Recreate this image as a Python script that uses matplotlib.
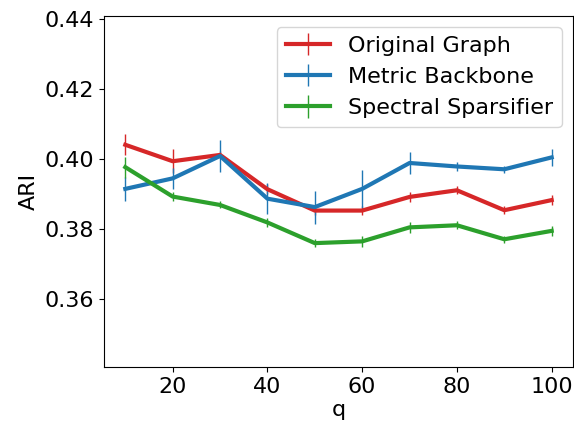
import numpy as np
import matplotlib
matplotlib.use("Agg")
import matplotlib.pyplot as plt

q = [10, 20, 30, 40, 50, 60, 70, 80, 90, 100]

orig_mean = [0.4041, 0.3994, 0.4012, 0.3914, 0.3853, 0.3853, 0.3892, 0.3911, 0.3854, 0.3883]
orig_err  = [0.0030, 0.0035, 0.0010, 0.0015, 0.0012, 0.0012, 0.0015, 0.0012, 0.0012, 0.0015]

metric_mean = [0.3915, 0.3945, 0.4009, 0.3887, 0.3863, 0.3915, 0.3989, 0.3979, 0.3971, 0.4005]
metric_err  = [0.0035, 0.0030, 0.0047, 0.0044, 0.0047, 0.0055, 0.0032, 0.0012, 0.0010, 0.0024]

spec_mean = [0.3977, 0.3893, 0.3869, 0.3819, 0.3760, 0.3765, 0.3805, 0.3811, 0.3771, 0.3795]
spec_err  = [0.0030, 0.0012, 0.0010, 0.0012, 0.0012, 0.0015, 0.0015, 0.0012, 0.0010, 0.0015]

fig = plt.figure(figsize=(5.74, 4.24), dpi=100)
ax = fig.add_axes([104 / 574, 57 / 424, 469 / 574, 351 / 424])

ax.errorbar(q, orig_mean, yerr=orig_err, color="tab:red", lw=3, elinewidth=1,
            label="Original Graph")
ax.errorbar(q, metric_mean, yerr=metric_err, color="tab:blue", lw=3, elinewidth=1,
            label="Metric Backbone")
ax.errorbar(q, spec_mean, yerr=spec_err, color="tab:green", lw=3, elinewidth=1,
            label="Spectral Sparsifier")

ax.set_xlim(5.5, 104.5)
ax.set_ylim(0.3406, 0.4409)
ax.set_xticks([20, 40, 60, 80, 100])
ax.set_yticks([0.36, 0.38, 0.40, 0.42, 0.44])
ax.tick_params(labelsize=16)
ax.set_xlabel("q", fontsize=16, labelpad=2)
ax.set_ylabel("ARI", fontsize=16)
ax.legend(loc="upper right", fontsize=16)

fig.savefig("out.png", dpi=100)
